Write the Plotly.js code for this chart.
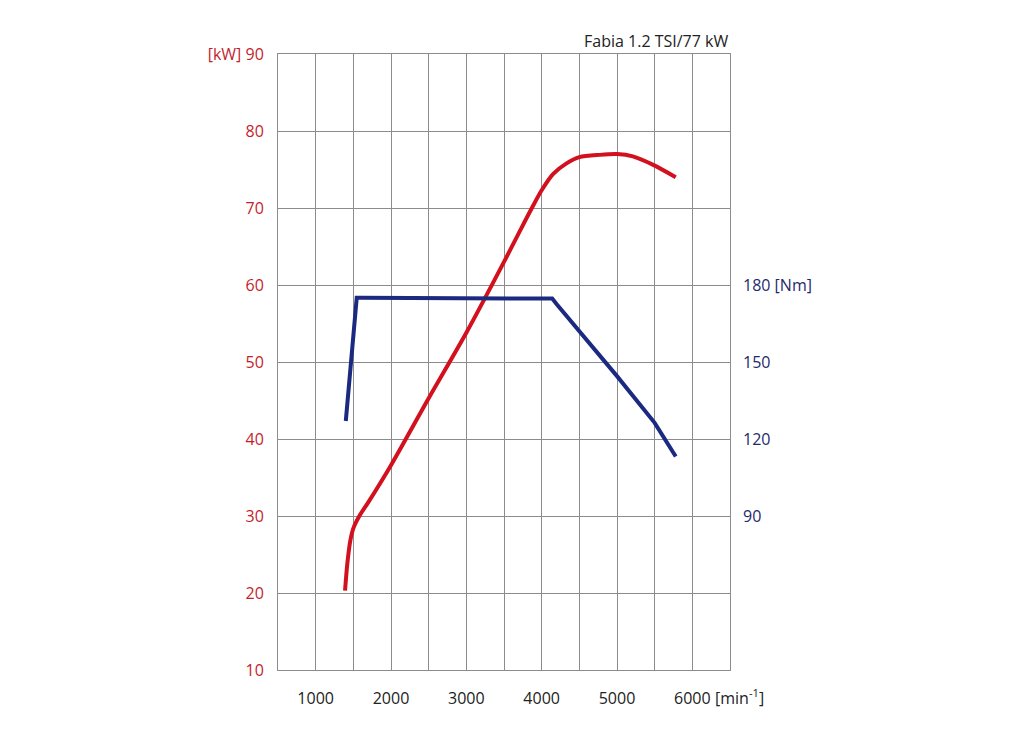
<!DOCTYPE html>
<html>
<head>
<meta charset="utf-8">
<script src="https://cdn.plot.ly/plotly-3.0.1.min.js"></script>
<style>
  html, body { margin: 0; padding: 0; background: #fff; }
  #chart { width: 1024px; height: 740px; }
</style>
</head>
<body>
<div id="chart"></div>
<script>
    'use strict';

    // engine speed [min-1]
    const powerRpm = [1390, 1420, 1460, 1500, 1580, 1700, 2000, 2500, 3000, 3500, 3710, 3870, 4000, 4150, 4330, 4500, 4770, 5000, 5210, 5480, 5780];
    // power [kW]
    const powerKw = [20.3, 23.8, 26.8, 28.4, 30.0, 31.8, 36.6, 45.3, 53.8, 63.0, 67.0, 70.0, 72.3, 74.4, 75.8, 76.6, 76.9, 77.0, 76.7, 75.6, 74.0];

    const torqueRpm = [1400, 1545, 1600, 4100, 4140, 4200, 4500, 4730, 5000, 5500, 5780];
    // torque [Nm]
    const torqueNm = [127, 175, 175, 175, 174.7, 172.5, 162, 153.8, 144.5, 126.3, 113.2];

    const xGridVals = [500, 1000, 1500, 2000, 2500, 3000, 3500, 4000, 4500, 5000, 5500, 6000, 6500];
    const xLabels = ['', '1000', '', '2000', '', '3000', '', '4000', '', '5000', '', '6000', ''];
    const kwVals = [10, 20, 30, 40, 50, 60, 70, 80, 90];
    const kwLabels = ['10', '20', '30', '40', '50', '60', '70', '80', '[kW] 90'];
    const nmVals = [90, 120, 150, 180];
    const nmLabels = ['90', '120', '150', '180 [Nm]'];

    const RED = '#d3111e';
    const BLUE = '#1b2a80';
    const GRID = '#8c8c8c';
    const FONT = 'Open Sans, sans-serif';

    const data = [
        {
            type: 'scatter',
            mode: 'lines',
            x: powerRpm,
            y: powerKw,
            line: {color: RED, width: 4, shape: 'spline', smoothing: 0.8},
            hoverinfo: 'skip'
        },
        {
            type: 'scatter',
            mode: 'lines',
            x: torqueRpm,
            y: torqueNm,
            yaxis: 'y2',
            line: {color: BLUE, width: 4},
            hoverinfo: 'skip'
        }
    ];

    const layout = {
        width: 1024,
        height: 740,
        showlegend: false,
        paper_bgcolor: '#fff',
        plot_bgcolor: '#fff',
        margin: {l: 278, r: 294, t: 54, b: 70},
        font: {family: FONT, size: 16},
        xaxis: {
            range: [500, 6500],
            tickvals: xGridVals,
            ticktext: xLabels,
            ticks: '',
            ticklabelstandoff: 14,
            showgrid: true,
            gridcolor: GRID,
            gridwidth: 1,
            showline: true,
            linecolor: GRID,
            linewidth: 1,
            mirror: true,
            zeroline: false,
            tickfont: {color: '#222', size: 16}
        },
        yaxis: {
            range: [10, 90],
            tickvals: kwVals,
            ticktext: kwLabels,
            ticks: '',
            ticklabelstandoff: 10,
            showgrid: true,
            gridcolor: GRID,
            gridwidth: 1,
            showline: true,
            linecolor: GRID,
            linewidth: 1,
            mirror: true,
            zeroline: false,
            tickfont: {color: '#c41e2e', size: 16}
        },
        yaxis2: {
            range: [30, 270],
            overlaying: 'y',
            side: 'right',
            tickvals: nmVals,
            ticktext: nmLabels,
            ticks: '',
            ticklabelstandoff: 12,
            showgrid: false,
            showline: false,
            zeroline: false,
            tickfont: {color: '#1f2a6b', size: 16}
        },
        annotations: [
            {
                text: 'Fabia 1.2 TSI/77 kW',
                xref: 'paper', yref: 'paper',
                x: 1, y: 1,
                xanchor: 'right', yanchor: 'bottom',
                showarrow: false,
                font: {family: FONT, size: 16, color: '#222'}
            },
            {
                text: '[min<sup>-1</sup>]',
                xref: 'x', yref: 'paper',
                x: 6000, y: 0,
                xanchor: 'left', yanchor: 'middle',
                xshift: 21, yshift: -27,
                showarrow: false,
                font: {family: FONT, size: 16, color: '#222'}
            }
        ]
    };

    Plotly.newPlot('chart', data, layout, {staticPlot: true, displayModeBar: false});
</script>
</body>
</html>
